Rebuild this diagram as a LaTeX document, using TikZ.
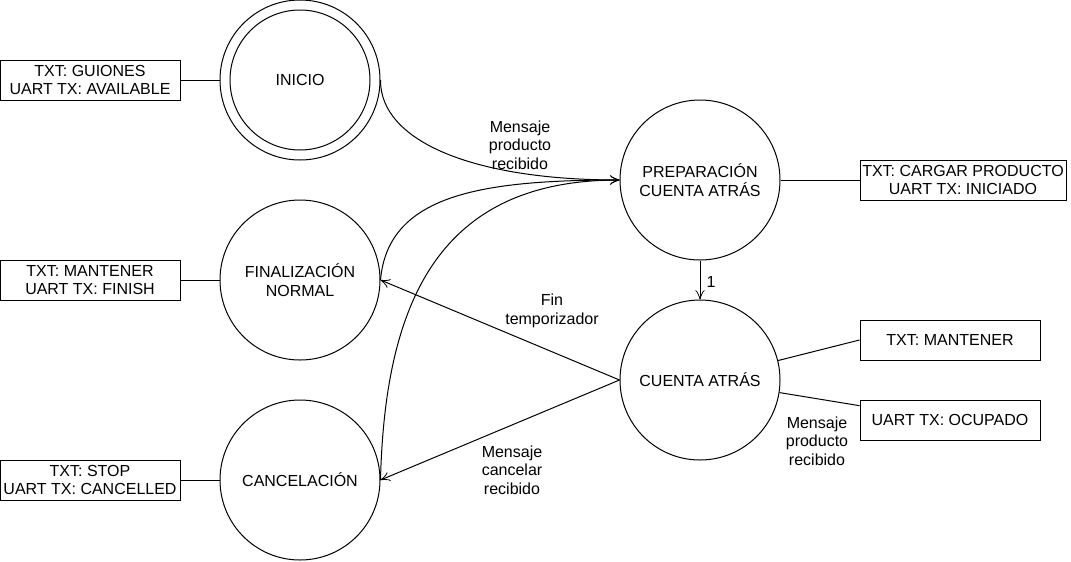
\documentclass[tikz,border=0pt]{standalone}
\usepackage{fontspec}
\setmainfont{Liberation Sans}
\usetikzlibrary{arrows.meta}

\tikzset{
  estado/.style={draw, circle, minimum size=120pt, inner sep=0pt, align=center},
  salida/.style={draw, rectangle, minimum height=30pt, inner sep=0pt, align=center},
  trans/.style={-{Classical TikZ Rightarrow[length=7pt,width=7pt,fill=black]}},
  etiq/.style={align=center, inner sep=0pt}
}

\begin{document}
\begin{tikzpicture}[x=0.75pt,y=0.75pt,yscale=-1,
  every node/.style={font=\fontsize{12}{14}\selectfont},
  line width=0.75pt]
\useasboundingbox (0,0) rectangle (1071,561);

%Shape: Circle [id:inicio]
\node[estado] (inicio) at (300,80) {INICIO};
\draw (inicio.center) circle [radius=52.5pt];
%Shape: Circle [id:fin]
\node[estado] (fin) at (300,280) {FINALIZACIÓN\\NORMAL};
%Shape: Circle [id:canc]
\node[estado] (canc) at (300,480) {CANCELACIÓN};
%Shape: Circle [id:prep]
\node[estado] (prep) at (700,180) {PREPARACIÓN\\CUENTA ATRÁS};
%Shape: Circle [id:cuenta]
\node[estado] (cuenta) at (700,380) {CUENTA ATRÁS};

%Shape: Rectangle [id:outputs]
\node[salida, minimum width=135pt] (outini) at (90,80) {TXT: GUIONES\\UART TX: AVAILABLE};
\node[salida, minimum width=135pt] (outfin) at (90,280) {TXT: MANTENER\\UART TX: FINISH};
\node[salida, minimum width=135pt] (outcanc) at (90,480) {TXT: STOP\\UART TX: CANCELLED};
\node[salida, minimum width=154.5pt] (outprep) at (963,180) {TXT: CARGAR PRODUCTO\\UART TX: INICIADO};
\node[salida, minimum width=135pt] (outtxt) at (950,340) {TXT: MANTENER};
\node[salida, minimum width=135pt] (outuart) at (950,420) {UART TX: OCUPADO};

%Straight Lines [id:links]
\draw (outini.east) -- (inicio.west);
\draw (outfin.east) -- (fin.west);
\draw (outcanc.east) -- (canc.west);
\draw (prep.east) -- (outprep.west);
\draw (cuenta.14) -- (outtxt.west);
\draw (cuenta.-9) -- (outuart.171);

%Curve Lines [id:toprep]
\draw[trans] (inicio.east) .. controls (380,140) and (470,180) .. (prep.west);
\draw[trans] (fin.east) .. controls (388,195) and (480,180) .. (prep.west);
\draw[trans] (canc.east) .. controls (385,300) and (440,180) .. (prep.west);
%Straight Lines [id:fromcuenta]
\draw[trans] (prep.south) -- (cuenta.north);
\draw[trans] (cuenta.west) -- (fin.east);
\draw[trans] (cuenta.west) -- (canc.east);

%Labels
\node[etiq] (lbprod) at (520,145) {Mensaje\\producto\\recibido};
\node[etiq] (lbuno) at (711,282) {1};
\node[etiq] (lbfin) at (552,311) {Fin\\temporizador};
\node[etiq] (lbcanc) at (512,470) {Mensaje\\cancelar\\recibido};
\node[etiq] (lbocup) at (817,441) {Mensaje\\producto\\recibido};

\end{tikzpicture}
\end{document}
